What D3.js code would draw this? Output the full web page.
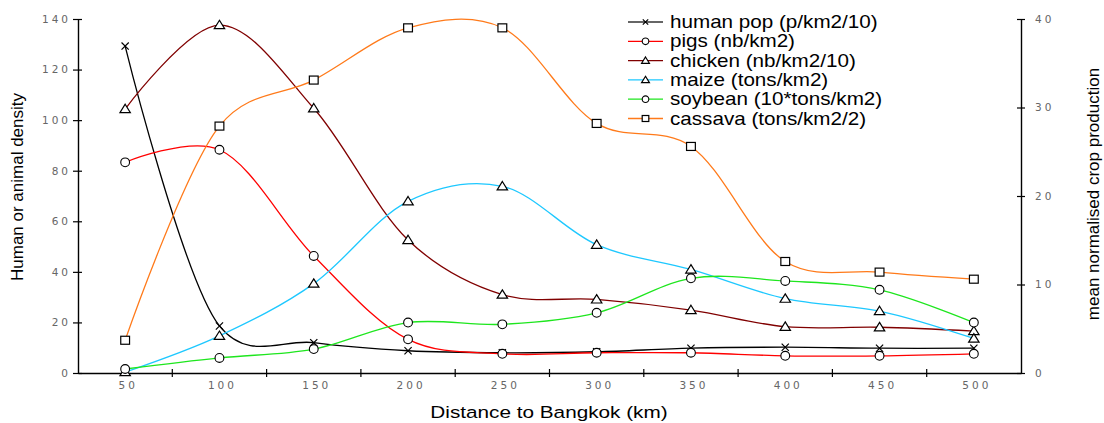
<!DOCTYPE html>
<html>
<head>
<meta charset="utf-8">
<script src="https://cdn.jsdelivr.net/npm/d3@7"></script>
<style>
  body { margin: 0; background: #fff; }
  svg { display: block; }
  .tick-label { font-family: "DejaVu Sans", Verdana, sans-serif; font-size: 10.5px; letter-spacing: 3px; fill: #666; }
  .title { font-family: "Liberation Sans", Arial, sans-serif; fill: #000; }
</style>
</head>
<body>
<div id="chart"></div>
<script>
// Data
const distances = [50, 100, 150, 200, 250, 300, 350, 400, 450, 500];
const humanPop = [129.3, 18.6, 12, 8.8, 8, 8.4, 9.8, 10.2, 9.8, 9.8];
const pigs = [83.3, 88.3, 46.3, 13.3, 7.6, 8, 8, 6.8, 6.8, 7.6];
const chicken = [104.4, 137.6, 104.7, 52.6, 31, 29.1, 24.9, 18.3, 18.1, 16.6];
const maize = [0.1, 4.2, 10.1, 19.4, 21.1, 14.5, 11.7, 8.4, 7.0, 3.9];
const soybean = [0.45, 1.7, 2.7, 5.7, 5.5, 6.8, 10.7, 10.4, 9.4, 5.7];
const cassava = [3.7, 27.9, 33.1, 39.0, 39.0, 28.2, 25.6, 12.6, 11.4, 10.6];

const leftTicks = [0, 20, 40, 60, 80, 100, 120, 140];
const rightTicks = [0, 10, 20, 30, 40];

const series = [
  { name: "human pop (p/km2/10)", values: humanPop, axis: "left", color: "#000000", marker: "cross" },
  { name: "pigs (nb/km2)", values: pigs, axis: "left", color: "#ff0000", marker: "circle" },
  { name: "chicken (nb/km2/10)", values: chicken, axis: "left", color: "#800000", marker: "triangle" },
  { name: "maize (tons/km2)", values: maize, axis: "right", color: "#1ec8ff", marker: "triangle" },
  { name: "soybean (10*tons/km2)", values: soybean, axis: "right", color: "#1ee61e", marker: "circle" },
  { name: "cassava (tons/km2/2)", values: cassava, axis: "right", color: "#ff7a1a", marker: "square" }
];

const width = 1104;
const height = 423;
const margin = { top: 19, right: 83, bottom: 50, left: 78 };
const innerWidth = width - margin.left - margin.right;
const innerHeight = height - margin.top - margin.bottom;
const spacing = 3;

const svg = d3.select('#chart')
  .append('svg')
  .attr('width', width)
  .attr('height', height);

const g = svg.append('g')
  .attr('transform', `translate(${margin.left}, ${margin.top})`);

// Scales
const xBand = d3.scaleBand()
  .domain(distances)
  .range([0, innerWidth])
  .padding(0);
const xCenter = d => xBand(d) + xBand.bandwidth() / 2;

const yLeft = d3.scaleLinear().domain([0, 140]).range([innerHeight, 0]);
const yRight = d3.scaleLinear().domain([0, 40]).range([innerHeight, 0]);

// Axes
const axisStyle = sel => {
  sel.select('.domain').attr('stroke', '#000').attr('stroke-width', 1.4);
  sel.selectAll('.tick line').attr('stroke', '#000').attr('stroke-width', 1.2);
  sel.selectAll('.tick text').attr('class', 'tick-label');
};

const yAxisLeft = g.append('g')
  .call(d3.axisLeft(yLeft).tickValues(leftTicks).tickSizeInner(4).tickSizeOuter(0).tickPadding(10));
yAxisLeft.selectAll('.tick line').attr('x2', 4).attr('x1', -5);
axisStyle(yAxisLeft);
// place letter-spaced labels from their left edge
yAxisLeft.selectAll('.tick text')
  .attr('text-anchor', 'start')
  .attr('x', function() { return -10 - (this.getComputedTextLength() - spacing); });

const yAxisRight = g.append('g')
  .attr('transform', `translate(${innerWidth},0)`)
  .call(d3.axisRight(yRight).tickValues(rightTicks).tickSizeInner(4).tickSizeOuter(0).tickPadding(10));
yAxisRight.selectAll('.tick line').attr('x1', -4).attr('x2', 4);
axisStyle(yAxisRight);

const xAxis = g.append('g')
  .attr('transform', `translate(0,${innerHeight})`)
  .call(d3.axisBottom(xBand).tickSize(0).tickSizeOuter(0).tickPadding(9));
axisStyle(xAxis);
xAxis.selectAll('.tick text')
  .attr('text-anchor', 'start')
  .attr('x', function() { return -(this.getComputedTextLength() - spacing) / 2 + 1.5; });

// tick marks on category boundaries
g.append('g')
  .attr('transform', `translate(0,${innerHeight})`)
  .selectAll('line')
  .data(distances.slice(1))
  .enter()
  .append('line')
  .attr('x1', d => xBand(d))
  .attr('x2', d => xBand(d))
  .attr('y1', -4)
  .attr('y2', 4)
  .attr('stroke', '#000')
  .attr('stroke-width', 1.2);

// Axis titles
g.append('text')
  .attr('class', 'title')
  .attr('transform', 'rotate(-90)')
  .attr('x', -innerHeight / 2 + 9)
  .attr('y', -55)
  .attr('text-anchor', 'middle')
  .style('font-size', '17px')
  .style('font-family', '"Liberation Sans Narrow", "Arial Narrow", sans-serif')
  .text('Human or animal density');

g.append('text')
  .attr('class', 'title')
  .attr('transform', 'rotate(-90)')
  .attr('x', -innerHeight / 2 + 2)
  .attr('y', innerWidth + 78)
  .attr('text-anchor', 'middle')
  .style('font-size', '17px')
  .style('font-family', '"Liberation Sans Narrow", "Arial Narrow", sans-serif')
  .text('mean normalised crop production');

g.append('text')
  .attr('class', 'title')
  .attr('transform', `translate(471,${innerHeight + 45}) scale(1.22,1)`)
  .attr('text-anchor', 'middle')
  .style('font-size', '17px')
  .text('Distance to Bangkok (km)');

// Marker shapes
function drawMarker(sel, type, size) {
  const s = size;
  if (type === 'circle') {
    sel.append('circle').attr('r', s * 0.55).attr('fill', '#fff').attr('stroke', '#000').attr('stroke-width', 1.1);
  } else if (type === 'triangle') {
    sel.append('path')
      .attr('d', `M0,${-s * 0.6}L${s * 0.65},${s * 0.45}L${-s * 0.65},${s * 0.45}Z`)
      .attr('fill', '#fff').attr('stroke', '#000').attr('stroke-width', 1.2);
  } else if (type === 'square') {
    sel.append('rect')
      .attr('x', -s * 0.55).attr('y', -s * 0.5).attr('width', s * 1.1).attr('height', s)
      .attr('fill', '#fff').attr('stroke', '#000').attr('stroke-width', 1.2);
  } else if (type === 'cross') {
    const c = s * 0.45;
    sel.append('path')
      .attr('d', `M${-c},${-c}L${c},${c}M${-c},${c}L${c},${-c}`)
      .attr('fill', 'none').attr('stroke', '#000').attr('stroke-width', 1.2);
  }
}

// Lines
const lines = g.append('g');
series.forEach(s => {
  const y = s.axis === 'left' ? yLeft : yRight;
  const line = d3.line()
    .x((d, i) => xCenter(distances[i]))
    .y(d => y(d))
    .curve(d3.curveCatmullRom.alpha(0.2));
  lines.append('path')
    .datum(s.values)
    .attr('d', line)
    .attr('fill', 'none')
    .attr('stroke', s.color)
    .attr('stroke-width', 1.3);
});

// Markers
series.forEach(s => {
  const y = s.axis === 'left' ? yLeft : yRight;
  g.append('g')
    .selectAll('g')
    .data(s.values)
    .enter()
    .append('g')
    .attr('transform', (d, i) => `translate(${xCenter(distances[i])},${y(d)})`)
    .each(function() { drawMarker(d3.select(this), s.marker, 8); });
});

// Legend
const legend = svg.append('g').attr('transform', 'translate(628,22)');
series.forEach((s, i) => {
  const row = legend.append('g').attr('transform', `translate(0,${i * 19.3})`);
  row.append('line')
    .attr('x1', 0).attr('x2', 35)
    .attr('stroke', s.marker === 'cross' ? '#333' : s.color)
    .attr('stroke-width', 1.3);
  const m = row.append('g').attr('transform', 'translate(17.5,0)');
  drawMarker(m, s.marker, 6);
  row.append('text')
    .attr('class', 'title')
    .attr('transform', 'translate(42,6) scale(1.18,1)')
    .style('font-size', '17.5px')
    .text(s.name);
});
</script>
</body>
</html>
